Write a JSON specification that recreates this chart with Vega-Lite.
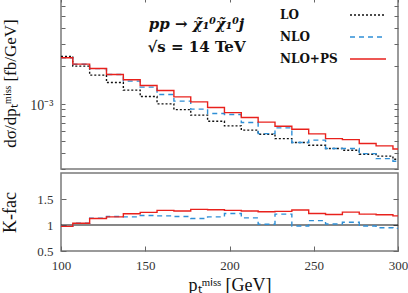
{
  "$schema": "https://vega.github.io/schema/vega-lite/v6.json",
  "padding": {"left": 0, "top": -5, "right": 2, "bottom": 2},
  "spacing": 0,
  "config": {
    "font": "Liberation Serif",
    "concat": {"spacing": 0},
    "view": {"stroke": "#7a7a7a", "strokeWidth": 1.5},
    "axis": {"domain": false, "grid": false, "tickColor": "#666666", "labelFont": "Liberation Serif", "labelFontSize": 13, "labelColor": "#333333", "titleFont": "Liberation Serif", "titleFontSize": 17, "titleColor": "#111111", "titleFontWeight": "normal", "labelOverlap": false},
    "legend": {"orient": "none", "legendX": 300, "legendY": 11, "symbolType": "M-3,0H3", "symbolSize": 144, "symbolStrokeWidth": 1.4, "labelOffset": -95, "labelFont": "DejaVu Serif", "labelFontWeight": "bold", "labelFontSize": 12, "labelColor": "#111111", "rowPadding": 9, "padding": 0}
  },
  "datasets": {
    "spectra": [
      {"pt":100,"proc":"LO","dsig":0.00238},{"pt":107,"proc":"LO","dsig":0.001991},{"pt":117,"proc":"LO","dsig":0.001687},{"pt":127,"proc":"LO","dsig":0.001472},{"pt":137,"proc":"LO","dsig":0.00128},{"pt":147,"proc":"LO","dsig":0.001138},{"pt":157,"proc":"LO","dsig":0.000994},{"pt":167,"proc":"LO","dsig":0.000895},{"pt":177,"proc":"LO","dsig":0.000808},{"pt":187,"proc":"LO","dsig":0.000723},{"pt":197,"proc":"LO","dsig":0.000663},{"pt":207,"proc":"LO","dsig":0.000613},{"pt":217,"proc":"LO","dsig":0.000569},{"pt":227,"proc":"LO","dsig":0.000525},{"pt":237,"proc":"LO","dsig":0.000488},{"pt":247,"proc":"LO","dsig":0.000465},{"pt":257,"proc":"LO","dsig":0.000437},{"pt":267,"proc":"LO","dsig":0.000424},{"pt":277,"proc":"LO","dsig":0.000394},{"pt":287,"proc":"LO","dsig":0.00038},{"pt":297,"proc":"LO","dsig":0.000359},{"pt":300,"proc":"LO","dsig":0.000359},
      {"pt":100,"proc":"NLO","dsig":0.00232},{"pt":107,"proc":"NLO","dsig":0.00206},{"pt":117,"proc":"NLO","dsig":0.0019},{"pt":127,"proc":"NLO","dsig":0.001706},{"pt":137,"proc":"NLO","dsig":0.001511},{"pt":147,"proc":"NLO","dsig":0.001353},{"pt":157,"proc":"NLO","dsig":0.00118},{"pt":167,"proc":"NLO","dsig":0.001045},{"pt":177,"proc":"NLO","dsig":0.000902},{"pt":187,"proc":"NLO","dsig":0.000832},{"pt":197,"proc":"NLO","dsig":0.000817},{"pt":207,"proc":"NLO","dsig":0.000705},{"pt":217,"proc":"NLO","dsig":0.000575},{"pt":227,"proc":"NLO","dsig":0.000639},{"pt":237,"proc":"NLO","dsig":0.000488},{"pt":247,"proc":"NLO","dsig":0.00051},{"pt":257,"proc":"NLO","dsig":0.000437},{"pt":267,"proc":"NLO","dsig":0.000437},{"pt":277,"proc":"NLO","dsig":0.000398},{"pt":287,"proc":"NLO","dsig":0.000363},{"pt":297,"proc":"NLO","dsig":0.000346},{"pt":300,"proc":"NLO","dsig":0.000346},
      {"pt":100,"proc":"NLO+PS","dsig":0.00232},{"pt":107,"proc":"NLO+PS","dsig":0.002066},{"pt":117,"proc":"NLO+PS","dsig":0.001905},{"pt":127,"proc":"NLO+PS","dsig":0.001706},{"pt":137,"proc":"NLO+PS","dsig":0.001548},{"pt":147,"proc":"NLO+PS","dsig":0.001393},{"pt":157,"proc":"NLO+PS","dsig":0.00127},{"pt":167,"proc":"NLO+PS","dsig":0.001131},{"pt":177,"proc":"NLO+PS","dsig":0.001032},{"pt":187,"proc":"NLO+PS","dsig":0.000929},{"pt":197,"proc":"NLO+PS","dsig":0.000847},{"pt":207,"proc":"NLO+PS","dsig":0.000773},{"pt":217,"proc":"NLO+PS","dsig":0.00071},{"pt":227,"proc":"NLO+PS","dsig":0.000659},{"pt":237,"proc":"NLO+PS","dsig":0.000624},{"pt":247,"proc":"NLO+PS","dsig":0.000572},{"pt":257,"proc":"NLO+PS","dsig":0.000525},{"pt":267,"proc":"NLO+PS","dsig":0.000515},{"pt":277,"proc":"NLO+PS","dsig":0.000479},{"pt":287,"proc":"NLO+PS","dsig":0.000459},{"pt":297,"proc":"NLO+PS","dsig":0.000434},{"pt":300,"proc":"NLO+PS","dsig":0.000434}
    ],
    "kfac": [
      {"pt":100,"proc":"NLO","k":0.974},{"pt":107,"proc":"NLO","k":1.033},{"pt":117,"proc":"NLO","k":1.131},{"pt":127,"proc":"NLO","k":1.163},{"pt":137,"proc":"NLO","k":1.157},{"pt":147,"proc":"NLO","k":1.183},{"pt":157,"proc":"NLO","k":1.176},{"pt":167,"proc":"NLO","k":1.163},{"pt":177,"proc":"NLO","k":1.124},{"pt":187,"proc":"NLO","k":1.157},{"pt":197,"proc":"NLO","k":1.222},{"pt":207,"proc":"NLO","k":1.137},{"pt":217,"proc":"NLO","k":1.013},{"pt":227,"proc":"NLO","k":1.209},{"pt":237,"proc":"NLO","k":0.98},{"pt":247,"proc":"NLO","k":1.085},{"pt":257,"proc":"NLO","k":1.02},{"pt":267,"proc":"NLO","k":1.052},{"pt":277,"proc":"NLO","k":0.98},{"pt":287,"proc":"NLO","k":0.948},{"pt":297,"proc":"NLO","k":0.935},{"pt":300,"proc":"NLO","k":0.935},
      {"pt":100,"proc":"NLO+PS","k":0.974},{"pt":107,"proc":"NLO+PS","k":1.033},{"pt":117,"proc":"NLO+PS","k":1.124},{"pt":127,"proc":"NLO+PS","k":1.157},{"pt":137,"proc":"NLO+PS","k":1.216},{"pt":147,"proc":"NLO+PS","k":1.242},{"pt":157,"proc":"NLO+PS","k":1.281},{"pt":167,"proc":"NLO+PS","k":1.268},{"pt":177,"proc":"NLO+PS","k":1.301},{"pt":187,"proc":"NLO+PS","k":1.294},{"pt":197,"proc":"NLO+PS","k":1.281},{"pt":207,"proc":"NLO+PS","k":1.268},{"pt":217,"proc":"NLO+PS","k":1.255},{"pt":227,"proc":"NLO+PS","k":1.262},{"pt":237,"proc":"NLO+PS","k":1.288},{"pt":247,"proc":"NLO+PS","k":1.222},{"pt":257,"proc":"NLO+PS","k":1.203},{"pt":267,"proc":"NLO+PS","k":1.248},{"pt":277,"proc":"NLO+PS","k":1.209},{"pt":287,"proc":"NLO+PS","k":1.196},{"pt":297,"proc":"NLO+PS","k":1.176},{"pt":300,"proc":"NLO+PS","k":1.176}
    ],
    "unity": [{"kref": 1}]
  },
  "resolve": {"scale": {"color": "independent", "strokeDash": "independent", "y": "independent"}, "legend": {"color": "independent", "strokeDash": "independent"}},
  "vconcat": [
    {
      "width": 337,
      "height": 172,
      "title": {"text": "pp → χ̃₁⁰χ̃₁⁰j", "subtitle": "√s = 14 TeV", "anchor": "middle", "frame": "group", "dx": -33, "offset": -58, "font": "DejaVu Serif", "fontSize": 15, "fontStyle": "italic", "fontWeight": "bold", "color": "#111111", "subtitleFont": "DejaVu Serif", "subtitleFontSize": 15, "subtitleFontWeight": "bold", "subtitleColor": "#111111", "subtitlePadding": 8},
      "data": {"name": "spectra"},
      "resolve": {"axis": {"y": "independent"}},
      "layer": [
        {
          "mark": {"type": "line", "interpolate": "step-after", "clip": true, "strokeWidth": 1.4},
          "encoding": {
            "x": {"field": "pt", "type": "quantitative", "scale": {"domain": [100, 300], "nice": false, "zero": false}, "axis": {"orient": "top", "labels": false, "title": null, "values": [100, 150, 200, 250, 300], "tickSize": -5}},
            "y": {"field": "dsig", "type": "quantitative", "scale": {"type": "log", "domain": [0.0003, 0.0071], "nice": false}, "axis": {"title": "dσ/dpₜᵐⁱˢˢ [fb/GeV]", "titleX": -42, "values": [0.0003, 0.0004, 0.0005, 0.0006, 0.0007, 0.0008, 0.0009, 0.001, 0.002, 0.003, 0.004, 0.005, 0.006, 0.007], "labelExpr": "datum.value == 0.001 ? '10⁻³' : ''", "labelFontSize": {"condition": {"test": "datum.value == 0.001", "value": 14}, "value": 0}, "labelOffset": 2, "tickSize": -4, "labelPadding": 12}},
            "color": {"field": "proc", "type": "nominal", "scale": {"domain": ["LO", "NLO", "NLO+PS"], "range": ["#111111", "#2f8fd6", "#e8211c"]}, "legend": {"title": null}},
            "strokeDash": {"field": "proc", "type": "nominal", "scale": {"domain": ["LO", "NLO", "NLO+PS"], "range": [[2, 2], [5, 4], [1, 0]]}, "legend": {"title": null}}
          }
        },
        {
          "mark": {"type": "line", "interpolate": "step-after", "clip": true, "strokeOpacity": 0},
          "encoding": {
            "x": {"field": "pt", "type": "quantitative"},
            "y": {"field": "dsig", "type": "quantitative", "axis": {"orient": "right", "title": null, "labels": false, "values": [0.0003, 0.0004, 0.0005, 0.0006, 0.0007, 0.0008, 0.0009, 0.001, 0.002, 0.003, 0.004, 0.005, 0.006, 0.007], "tickSize": -4}}
          }
        }
      ]
    },
    {
      "width": 337,
      "height": 78,
      "resolve": {"axis": {"y": "independent"}},
      "layer": [
        {
          "data": {"name": "unity"},
          "mark": {"type": "rule", "color": "#111111", "strokeWidth": 1.2},
          "encoding": {"y": {"field": "kref", "type": "quantitative", "scale": {"domain": [0.5, 2], "nice": false, "zero": false}, "axis": {"orient": "right", "title": null, "labels": false, "values": [0.5, 1, 1.5], "tickSize": -5}}}
        },
        {
          "data": {"name": "kfac"},
          "mark": {"type": "line", "interpolate": "step-after", "clip": true, "strokeWidth": 1.4},
          "encoding": {
            "x": {"field": "pt", "type": "quantitative", "scale": {"domain": [100, 300], "nice": false, "zero": false}, "axis": {"title": "pₜᵐⁱˢˢ [GeV]", "titleFontSize": 18, "titlePadding": 4, "values": [100, 150, 200, 250, 300], "tickSize": -5, "labelFlush": false, "labelPadding": 13}},
            "y": {"field": "k", "type": "quantitative", "scale": {"domain": [0.5, 2], "nice": false, "zero": false}, "axis": {"title": "K-fac", "titleFontSize": 18, "titleX": -42, "values": [0.5, 1, 1.5], "format": "~g", "tickSize": -5, "labelPadding": 13}},
            "color": {"field": "proc", "type": "nominal", "scale": {"domain": ["NLO", "NLO+PS"], "range": ["#2f8fd6", "#e8211c"]}, "legend": null},
            "strokeDash": {"field": "proc", "type": "nominal", "scale": {"domain": ["NLO", "NLO+PS"], "range": [[5, 4], [1, 0]]}, "legend": null}
          }
        }
      ]
    }
  ]
}
